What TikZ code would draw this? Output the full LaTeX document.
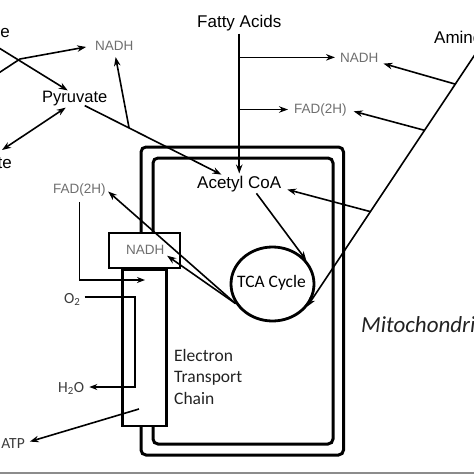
\documentclass[tikz,border=0pt]{standalone}
\usepackage{fontspec}
\setmainfont{Liberation Sans}
\newfontfamily\calibri{Carlito}
\usetikzlibrary{arrows.meta,calc,shapes.geometric}

\definecolor{cofgray}{HTML}{6E6E6E}
\definecolor{smallgray}{HTML}{3C3C3C}
\definecolor{etcgray}{HTML}{222222}
\definecolor{bargray}{HTML}{8C8C8C}

\begin{document}
\begin{tikzpicture}[x=1pt,y=-1pt,
  lbl/.style={inner sep=0pt, font=\fontsize{17}{20}\selectfont},
  cofac/.style={inner sep=0pt, text=cofgray, font=\fontsize{13.5}{16}\selectfont},
  cal/.style={inner sep=0pt, text=etcgray, font=\calibri\fontsize{17.5}{21}\selectfont},
  small/.style={inner sep=0pt, text=smallgray, font=\calibri\fontsize{15.5}{18}\selectfont},
  arr/.style={line width=1.6pt, -{Stealth[length=9pt,width=6.5pt]}},
  dblarr/.style={line width=1.6pt, {Stealth[length=9pt,width=6.5pt]}-{Stealth[length=9pt,width=6.5pt]}},
  thinarr/.style={line width=1.3pt, -{Stealth[length=8pt,width=6pt]}},
  membrane/.style={line width=3pt, rounded corners=5pt}]
\useasboundingbox (0,0) rectangle (474,474);

% mitochondrion
\draw[membrane] (141,147) rectangle (343.5,455);
\draw[membrane] (153,158) rectangle (333,444);

% NADH box on top of the transport chain
\node[draw, fill=white, line width=2.2pt, minimum width=71pt, minimum height=35pt, inner sep=0] (nbox) at (144.5,250.5) {};
\node[draw, fill=white, line width=2.2pt, minimum width=44pt, minimum height=156pt, inner sep=0, anchor=north] (etc) at (nbox.south) {};
\node[cofac, anchor=base west] (nboxtext) at (126,254) {NADH};

% TCA cycle
\node[draw, ellipse, line width=2.8pt, minimum width=83pt, minimum height=74pt, inner sep=0] (tca) at (272.5,284) {};
\node[cal, text=black, anchor=base] (tcatext) at (271.5,287) {TCA Cycle};

% labels
\node[lbl, anchor=base east] (glu) at (10,37) {Glucose};
\node[lbl, anchor=base east] (lac) at (12,168) {Lactate};
\node[lbl, anchor=base west, font=\fontsize{16.5}{20}\selectfont] (pyr) at (42,102) {Pyruvate};
\node[lbl, anchor=base west] (fatty) at (197,27) {Fatty Acids};
\node[lbl, anchor=base west] (amino) at (434,43) {Amino Acids};
\node[lbl, anchor=base west] (acoa) at (197,188) {Acetyl CoA};
\node[cofac, anchor=base west] (nadhA) at (95,50) {NADH};
\node[cofac, anchor=base west] (nadhB) at (340,62) {NADH};
\node[cofac, anchor=base west] (fadB) at (294,113) {FAD(2H)};
\node[cofac, anchor=base west] (fadA) at (53,193) {FAD(2H)};
\node[small, anchor=base west] (otwo) at (64,303) {O\textsubscript{2}};
\node[small, anchor=base west] (htwo) at (58,392) {H\textsubscript{2}O};
\node[small, anchor=base east] (atp) at (25,448) {ATP};
\node[cal, anchor=base west] (etcA) at (174,361) {Electron};
\node[cal, anchor=base west] (etcB) at (174,382.5) {Transport};
\node[cal, anchor=base west] (etcC) at (174,404) {Chain};
\node[cal, anchor=base west, font=\calibri\itshape\fontsize{23}{27}\selectfont] (mito) at (361,332) {Mitochondria};

% glycolysis
\coordinate (gluout) at (-22,35);
\coordinate (glunadh) at (-15,82);
\coordinate (glubend) at (20,59);
\coordinate (lacpt) at (2,150);
\draw[arr] (gluout) -- ([xshift=-7pt]pyr.north);
\draw[arr, shorten >=9pt] (glunadh) -- (glubend) -- (nadhA.west);
\draw[dblarr] (lacpt) -- ([xshift=-9pt,yshift=-2pt]pyr.south);
\draw[arr, shorten >=2pt] ([xshift=10pt]pyr.south) -- coordinate[pos=0.32] (jpyr) ([xshift=-16pt]acoa.north);
\draw[arr, shorten >=7pt] (jpyr) -- (nadhA.south);

% fatty acids
\draw[arr, shorten <=3pt, shorten >=2pt] (fatty.south) -- (fatty.south |- acoa.north);
\draw[arr, shorten >=5pt] (fatty.south |- nadhB.west) -- (nadhB.west);
\draw[arr, shorten >=6pt] (fatty.south |- fadB.west) -- (fadB.west);

% amino acids
\coordinate (aminout) at (478,50);
\draw[arr] (aminout) -- coordinate[pos=0.133] (jnadh) coordinate[pos=0.313] (jfad) coordinate[pos=0.63] (jacoa) (tca.-33);
\draw[arr, shorten >=5pt] (jnadh) -- (nadhB.south east);
\draw[arr, shorten >=7pt] (jfad) -- (fadB.east);
\draw[arr, shorten >=6pt] (jacoa) -- (acoa.base east);

% TCA cycle in and out
\draw[arr, shorten <=2pt] ([xshift=16pt]acoa.south) -- (tca.35);
\draw[arr, shorten >=3pt] (tca.208) -- (nboxtext.base east);
\draw[arr, shorten >=3pt] (tca.208) -- (fadA.east);

% electron transport chain
\coordinate (fadin) at (145,280);
\coordinate (loopx) at (135,340);
\coordinate (etcout) at (139,409);
\draw[thinarr, shorten <=6pt] (fadA.south) |- (fadin);
\draw[thinarr, shorten <=4pt, shorten >=5pt] ([yshift=6pt]otwo.base east) -| (loopx) |- ([yshift=5pt]htwo.base east);
\draw[arr, shorten >=5pt] (etcout) -- (atp.east);

\fill[bargray] (0,472) rectangle (474,474);
\end{tikzpicture}
\end{document}
